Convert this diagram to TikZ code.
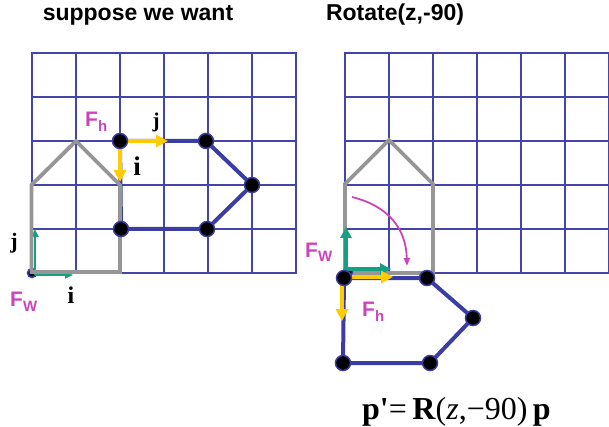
\documentclass[tikz,border=0pt]{standalone}
\usepackage{fontspec}
\setmainfont{Liberation Serif}
\newfontfamily\arialfont{Liberation Sans}
\newfontfamily\eqfont{Liberation Serif}
\usetikzlibrary{arrows.meta}
\definecolor{gridblue}{RGB}{68,68,170}
\definecolor{polyblue}{RGB}{60,60,165}
\definecolor{housegray}{RGB}{150,150,150}
\definecolor{axisyellow}{RGB}{255,204,0}
\definecolor{axisgreen}{RGB}{22,160,130}
\definecolor{framemag}{RGB}{204,68,187}
\begin{document}
\begin{tikzpicture}[x=1pt,y=-1pt,
  gridline/.style={gridblue,line width=2.5pt,line cap=rect},
  poly/.style={polyblue,line width=4pt,line join=round},
  house/.style={housegray,line width=3.8pt,line join=miter},
  yarrow/.style={axisyellow,line width=3.2pt,-{Triangle[length=12pt,width=12pt]}},
  garrowthin/.style={axisgreen,line width=2pt,-{Triangle[length=8pt,width=7pt]}},
  garrow/.style={axisgreen,line width=3.5pt,-{Triangle[length=11pt,width=11pt]}},
  rotarrow/.style={framemag,line width=1.8pt,-{Triangle[length=8pt,width=6pt]}},
  dot/.style={circle,fill=black,draw=polyblue,line width=1.5pt,minimum size=15pt,inner sep=0pt},
  smalldot/.style={circle,fill=black,draw=polyblue,line width=1.5pt,minimum size=9pt,inner sep=0pt},
  title/.style={font=\arialfont\bfseries\fontsize{23}{23}\selectfont,anchor=base,inner sep=0pt},
  axislbl/.style={font=\bfseries\fontsize{22}{22}\selectfont,text=black,inner sep=0pt},
  framelbl/.style={font=\arialfont\bfseries\fontsize{21}{21}\selectfont,text=framemag,anchor=base west,inner sep=0pt},
]
\useasboundingbox (0,0) rectangle (609,427);

% titles
\node[title] (t1) at (138,21) {suppose we want};
\node[title] (t2) at (395,21) {Rotate(z,-90)};

% grids
\foreach \k in {0,...,6} {
  \draw[gridline] ({32+44*\k},53) -- ({32+44*\k},273);
  \draw[gridline] ({345+44*\k},53) -- ({345+44*\k},273);
}
\foreach \k in {0,...,5} {
  \draw[gridline] (32,{53+44*\k}) -- (296,{53+44*\k});
  \draw[gridline] (345,{53+44*\k}) -- (609,{53+44*\k});
}

% left: polygon points
\coordinate (a1) at (120,141);
\coordinate (b1) at (206,141);
\coordinate (c1) at (252,185);
\coordinate (d1) at (207,229);
\coordinate (e1) at (121,229);
\coordinate (w1) at (32,273);
% right: polygon points
\coordinate (a2) at (344,278);
\coordinate (b2) at (427,278);
\coordinate (c2) at (473,318);
\coordinate (d2) at (430,363);
\coordinate (e2) at (343,363);
\coordinate (w2) at (348,272);

\draw[poly] (a1) -- (b1) -- (c1) -- (d1) -- (e1) -- cycle;
\draw[poly] (a2) -- (b2) -- (c2) -- (d2) -- (e2) -- cycle;

% world frame origin (left) and green axes
\node[smalldot] (W1) at (w1) {};
\coordinate (wj1) at (35,229);
\coordinate (wi1) at (73,275);
\draw[garrowthin] (35,275) -- (wj1);
\draw[garrowthin] (35,275) -- (wi1);

% houses
\draw[house] (31.5,272) -- (31.5,185) -- (76,141) -- (120,185) -- (120,272) -- cycle;
\draw[house] (345,273) -- (345,184) -- (389,140) -- (433,184) -- (433,273) -- cycle;

% right green axes
\node[smalldot] (W2) at (w2) {};
\coordinate (wj2) at (346,227);
\coordinate (wi2) at (391,269);
\draw[garrow] (346,270) -- (wj2);
\draw[garrow] (346,269) -- (wi2);

% yellow axes
\coordinate (hj1) at (168,141);
\coordinate (hi1) at (120,182);
\draw[yarrow] (a1) -- (hj1);
\draw[yarrow] (a1) -- (hi1);
\coordinate (hj2) at (393,277);
\coordinate (hi2) at (342,321);
\draw[yarrow] (344,277) -- (hj2);
\draw[yarrow] (342,278) -- (hi2);

% rotation arrow
\coordinate (rs) at (352,197);
\coordinate (re) at (407,266);
\draw[rotarrow] (rs) .. controls (388,206) and (406,228) .. (re);

% dots
\foreach \p in {a1,b1,c1,d1,e1,a2,b2,c2,d2,e2} {
  \node[dot] (D\p) at (\p) {};
}

% axis labels
\node[axislbl,font=\bfseries\fontsize{21}{21}\selectfont] (lj1) at (156,122) {j};
\node[axislbl,font=\bfseries\fontsize{27}{27}\selectfont] (li1) at (137,166) {i};
\node[axislbl] (lj2) at (14,243) {j};
\node[axislbl,font=\bfseries\fontsize{24}{24}\selectfont] (li2) at (71,295) {i};

% frame labels
\node[framelbl] (fh1) at (85,127) {F\raisebox{-5pt}{\fontsize{15}{15}\selectfont h}};
\node[framelbl] (fw1) at (10,306) {F\raisebox{-5pt}{\fontsize{15}{15}\selectfont W}};
\node[framelbl] (fw2) at (305,257) {F\raisebox{-5pt}{\fontsize{15}{15}\selectfont W}};
\node[framelbl] (fh2) at (362,316) {F\raisebox{-5pt}{\fontsize{15}{15}\selectfont h}};

% equation
\node[anchor=base west,inner sep=0pt,font=\eqfont\fontsize{32}{32}\selectfont] (eq) at (362,419)
  {\textbf{p'}=\,\textbf{R}(\textit{z},−90)\,\textbf{p}};
\end{tikzpicture}
\end{document}
